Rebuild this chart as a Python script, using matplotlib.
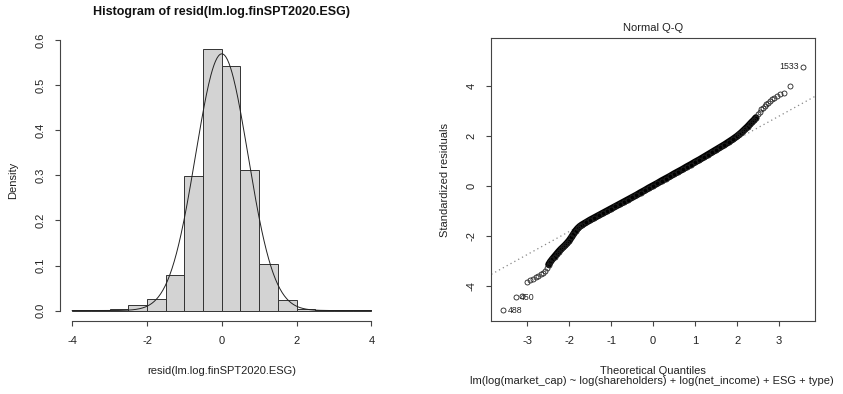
import numpy as np
import matplotlib
matplotlib.use('Agg')
import matplotlib.pyplot as plt

plt.rcParams['font.family'] = ['Liberation Sans', 'DejaVu Sans']

# histogram of raw residuals (density per 0.5-wide bin)
hist_edges = [-4.0, -3.5, -3.0, -2.5, -2.0, -1.5, -1.0, -0.5, 0.0,
              0.5, 1.0, 1.5, 2.0, 2.5, 3.0, 3.5, 4.0]
hist_density = [0.0007, 0.0014, 0.0029, 0.013, 0.026, 0.080, 0.299, 0.581,
                0.544, 0.312, 0.104, 0.023, 0.0043, 0.0021, 0.0007, 0.0007]
# normal curve laid over the histogram
curve_mean = 0.0
curve_sd = 0.70

# normal Q-Q points (theoretical quantile, standardized residual)
qq_theo = [-3.57, -3.27, -3.12, -3.01, -2.93, -2.86, -2.80, -2.74, -2.68, -2.62,
           -2.57, -2.53, -2.49, -2.45, -2.40, -2.35, -2.30, -2.25, -2.20, -2.15,
           -2.10, -2.05, -2.00, -1.95, -1.90, -1.85, -1.80, -1.75,
           -1.7, -1.6, -1.5, -1.4, -1.3, -1.2, -1.1, -1.0, -0.9, -0.8, -0.7,
           -0.6, -0.5, -0.4, -0.3, -0.2, -0.1, 0.0, 0.1, 0.2, 0.3, 0.4, 0.5,
           0.6, 0.7, 0.8, 0.9, 1.0, 1.1, 1.2, 1.3, 1.4, 1.5, 1.6, 1.7, 1.8,
           1.9, 2.0, 2.05, 2.1, 2.15, 2.2, 2.25, 2.3, 2.35, 2.40, 2.45, 2.50,
           2.54, 2.58, 2.62, 2.66, 2.70, 2.74, 2.78, 2.83, 2.88, 2.95, 3.02,
           3.12, 3.27, 3.57]
qq_resid = [-4.97, -4.45, -4.38, -3.82, -3.76, -3.70, -3.64, -3.58, -3.53, -3.48,
            -3.40, -3.28, -3.14, -3.03, -2.92, -2.82, -2.72, -2.62, -2.53, -2.45,
            -2.37, -2.28, -2.18, -2.06, -1.93, -1.80, -1.70, -1.62,
            -1.56, -1.46, -1.36, -1.27, -1.18, -1.09, -1.00, -0.91, -0.82, -0.73, -0.64,
            -0.55, -0.46, -0.37, -0.27, -0.18, -0.08, 0.01, 0.10, 0.20, 0.29, 0.38, 0.48,
            0.57, 0.66, 0.76, 0.85, 0.95, 1.04, 1.14, 1.24, 1.34, 1.44, 1.54, 1.64, 1.75,
            1.86, 1.98, 2.05, 2.12, 2.20, 2.28, 2.36, 2.45, 2.54, 2.62, 2.72, 2.85,
            2.95, 3.05, 3.12, 3.19, 3.25, 3.32, 3.38, 3.45, 3.52, 3.58, 3.65,
            3.72, 4.00, 4.75]
qq_labels = {'488': (-3.57, -4.97, 'right'), '450': (-3.27, -4.45, 'right'),
             '1533': (3.57, 4.75, 'left')}
qq_line_intercept = 0.02
qq_line_slope = 0.92

W, H = 843, 394
AXC = '#444444'
FS = 8

fig = plt.figure(figsize=(W / 100, H / 100), dpi=100)


def fx(px):
    return px / W


def fy(py):
    return 1 - py / H


top, bot = 38.4, 321.0
ax1 = fig.add_axes([fx(60.3), fy(bot), (383.3 - 60.3) / W, (bot - top) / H])
ax2 = fig.add_axes([fx(491.3), fy(bot), (815.0 - 491.3) / W, (bot - top) / H])

# --- histogram ---
edges = np.array(hist_edges)
ax1.bar(edges[:-1], hist_density, width=np.diff(edges), align='edge',
        color='#D3D3D3', edgecolor='#333333', linewidth=0.7)
xs = np.linspace(hist_edges[0], hist_edges[-1], 400)
pdf = np.exp(-0.5 * ((xs - curve_mean) / curve_sd) ** 2) / (curve_sd * np.sqrt(2 * np.pi))
ax1.plot(xs, pdf, color='#222222', linewidth=0.7)
ax1.set_xlim(-4.32, 4.32)
ax1.set_ylim(-0.0232, 0.6042)
for s in ['top', 'right']:
    ax1.spines[s].set_visible(False)
ax1.spines['left'].set_bounds(0, 0.6)
ax1.spines['bottom'].set_bounds(-4, 4)
ax1.set_xticks([-4, -2, 0, 2, 4])
ax1.set_xticklabels(['-4', '-2', '0', '2', '4'])
ax1.set_yticks([0, 0.1, 0.2, 0.3, 0.4, 0.5, 0.6])
ax1.set_yticklabels(['0.0', '0.1', '0.2', '0.3', '0.4', '0.5', '0.6'])

# --- normal Q-Q ---
qt = np.array(qq_theo)
qr = np.array(qq_resid)
ax2.axline((0, qq_line_intercept), slope=qq_line_slope, color='#888888',
           linestyle=(0, (1, 2.5)), linewidth=0.9, zorder=1)
dense = (qt > -2.5) & (qt < 2.47)
ax2.plot(qt[dense], qr[dense], color='black', linewidth=5, solid_capstyle='round', zorder=2)
ax2.plot(qt, qr, linestyle='none', marker='o', markersize=3.6, markerfacecolor='none',
         markeredgecolor='#222222', markeredgewidth=0.6, zorder=3)
for lab, (lx, ly, side) in qq_labels.items():
    off = 3 if side == 'right' else -3
    ax2.annotate(lab, (lx, ly), xytext=(off, 0), textcoords='offset points',
                 ha='left' if side == 'right' else 'right', va='center',
                 fontsize=6.3, color='#222222')
ax2.set_xlim(-3.857, 3.857)
ax2.set_ylim(-5.39, 5.88)
ax2.set_xticks([-3, -2, -1, 0, 1, 2, 3])
ax2.set_xticklabels(['-3', '-2', '-1', '0', '1', '2', '3'])
ax2.set_yticks([-4, -2, 0, 2, 4])
ax2.set_yticklabels(['-4', '-2', '0', '2', '4'])

for ax in (ax1, ax2):
    for sp in ax.spines.values():
        sp.set_color(AXC)
        sp.set_linewidth(0.8)
    ax.tick_params(direction='out', length=3.3, width=0.8, color=AXC,
                   labelsize=FS, pad=7.5, labelcolor='#222222')
    for lbl in ax.get_yticklabels():
        lbl.set_rotation(90)
        lbl.set_va('center')

# --- texts ---
c1 = fx((60.3 + 383.3) / 2)
c2 = fx((491.3 + 815.0) / 2)
fig.text(c1, fy(12), 'Histogram of resid(lm.log.finSPT2020.ESG)', ha='center', va='center',
         fontsize=9, fontweight='bold', color='#111111')
fig.text(fx(13), fy(180), 'Density', rotation=90, ha='center', va='center', fontsize=FS,
         color='#222222')
fig.text(c1, fy(370.7), 'resid(lm.log.finSPT2020.ESG)', ha='center', va='center',
         fontsize=FS, color='#222222')
fig.text(c2, fy(28.3), 'Normal Q-Q', ha='center', va='center', fontsize=FS, color='#222222')
fig.text(fx(445), fy(180), 'Standardized residuals', rotation=90, ha='center', va='center',
         fontsize=FS, color='#222222')
fig.text(c2, fy(371), 'Theoretical Quantiles', ha='center', va='center', fontsize=FS,
         color='#222222')
fig.text(c2 - fx(1), fy(381), 'lm(log(market_cap) ~ log(shareholders) + log(net_income) + ESG + type)',
         ha='center', va='center', fontsize=FS, color='#222222')

fig.savefig('out.png', dpi=100)
